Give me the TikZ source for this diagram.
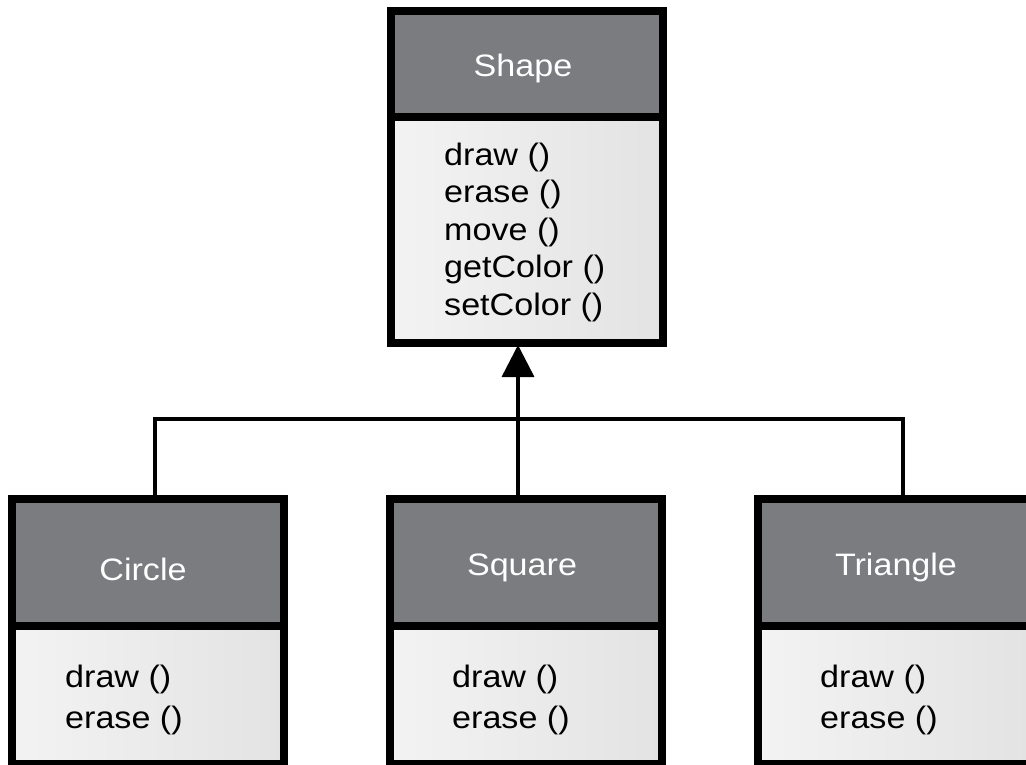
\documentclass[tikz,border=0pt]{standalone}
\usepackage{fontspec}
\setmainfont{Liberation Sans}[FakeStretch=1.1]
\usetikzlibrary{arrows.meta}
\definecolor{headgray}{HTML}{7B7C7F}
\definecolor{bodylight}{HTML}{F3F3F3}
\definecolor{bodydark}{HTML}{E3E3E4}
\begin{document}
\begin{tikzpicture}[x=1pt,y=-1pt,
  frame/.style={draw=black, line width=8.5pt, rectangle, inner sep=0pt, outer sep=0pt, minimum width=272pt},
  head/.style={frame, fill=headgray},
  body/.style={frame, left color=bodylight, right color=bodydark},
  title/.style={text=white, font=\fontsize{31}{37}\selectfont, anchor=base, inner sep=0pt},
  ops/.style={font=\fontsize{31}{37.5}\selectfont, align=left, anchor=base west, inner sep=0pt},
  subops/.style={ops, font=\fontsize{31}{40.5}\selectfont},
  link/.style={line width=3.5pt, draw=black}
]
% canvas
\useasboundingbox (0,0) rectangle (1026,765);
\fill[white] (0,0) rectangle (1026,765);
\clip (0,0) rectangle (1026,765);

% junction points of the inheritance tree
\coordinate (cjoin) at (155,419);
\coordinate (hub) at (518,419);
\coordinate (tjoin) at (903,419);

% base class
\node[body, minimum height=226pt] (shapebody) at (527,230) {};
\node[head, minimum height=106pt] (shapehead) at (527,64) {};

% subclasses
\node[body, minimum height=138pt] (circlebody) at (148,695) {};
\node[head, minimum height=127pt] (circlehead) at (148,562.5) {};
\node[body, minimum height=138pt] (squarebody) at (526,695) {};
\node[head, minimum height=127pt] (squarehead) at (526,562.5) {};
\node[body, minimum height=138pt] (trianglebody) at (894,695) {};
\node[head, minimum height=127pt] (trianglehead) at (894,562.5) {};

% connectors
\draw[link] (circlehead.north -| cjoin) -- (cjoin) -- (tjoin) -- (trianglehead.north -| tjoin);
\draw[link, -{Triangle[length=32pt,width=32pt]}, shorten >=2pt] (squarehead.north -| hub) -- (shapebody.south -| hub);

% class names
\node[title] (shapename) at (523,77) {Shape};
\node[title] (circlename) at (143,580) {Circle};
\node[title] (squarename) at (522,575) {Square};
\node[title] (trianglename) at (896,575) {Triangle};

% operations (anchored at the baseline of the last line)
\node[ops] (shapeops) at (444,315) {draw ()\\erase ()\\move ()\\getColor ()\\setColor ()};
\node[subops] (circleops) at (65,728) {draw ()\\erase ()};
\node[subops] (squareops) at (452,728) {draw ()\\erase ()};
\node[subops] (triangleops) at (820,728) {draw ()\\erase ()};
\end{tikzpicture}
\end{document}
